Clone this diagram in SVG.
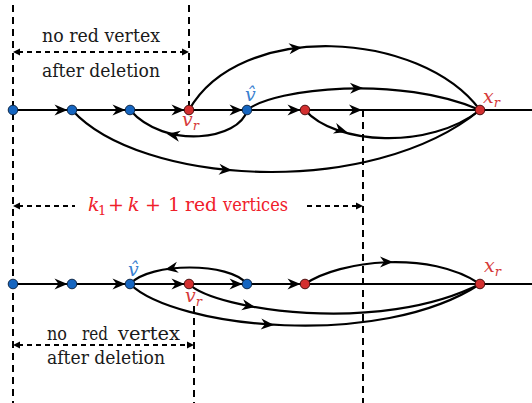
<svg xmlns="http://www.w3.org/2000/svg" xmlns:xlink="http://www.w3.org/1999/xlink" width="532" height="403" viewBox="0 0 532 403">
<style>
.edge{fill:none;stroke:#000;stroke-width:2.2}
.dash{fill:none;stroke:#000;stroke-width:2;stroke-dasharray:7 5}
.dasharr{fill:none;stroke:#000;stroke-width:2;stroke-dasharray:5 4}
.blue{fill:#1565c0;stroke:#0f2848;stroke-width:1}
.red{fill:#d32f2f;stroke:#4a1010;stroke-width:1}
text{font-family:"DejaVu Serif","Times New Roman","Liberation Serif",serif;font-size:19px}
.txt{fill:#1a1a1a}
.math{font-style:italic}
.lred{fill:#d63a3a}
.lblue{fill:#3a7fd0}
.bigred{fill:#f0202a}
.sub{font-size:13px}
</style>
<defs>
<path id="ah" d="M0,0 L-13,-5.5 L-9,0 L-13,5.5 Z" fill="#000"/>
<path id="dh" d="M0,0 L-7,-3.5 L-7,3.5 Z" fill="#000"/>
</defs>

<g id="guides">
<line class="dash" x1="13" y1="5" x2="13" y2="403"/>
<line class="dash" x1="189" y1="5" x2="189" y2="107"/>
<line class="dash" x1="363" y1="110" x2="363" y2="403"/>
<line class="dash" x1="194" y1="306" x2="194" y2="403"/>
<line class="dasharr" x1="18" y1="52" x2="184" y2="52"/>
<use href="#dh" transform="translate(13,52) rotate(180)"/>
<use href="#dh" transform="translate(189,52)"/>
<line class="dasharr" x1="18" y1="206" x2="75" y2="206"/>
<use href="#dh" transform="translate(13,206) rotate(180)"/>
<line class="dasharr" x1="307" y1="206" x2="358" y2="206"/>
<use href="#dh" transform="translate(363,206)"/>
<line class="dasharr" x1="18" y1="345" x2="189" y2="345"/>
<use href="#dh" transform="translate(13,345) rotate(180)"/>
<use href="#dh" transform="translate(194,345)"/>
</g>

<g id="connectors">
<line class="edge" x1="13" y1="110" x2="532" y2="110"/>
<line class="edge" x1="13" y1="284" x2="532" y2="284"/>
<use href="#ah" transform="translate(67.5,110)"/>
<use href="#ah" transform="translate(125.5,110)"/>
<use href="#ah" transform="translate(184.5,110)"/>
<use href="#ah" transform="translate(242.5,110)"/>
<use href="#ah" transform="translate(300.5,110)"/>
<use href="#ah" transform="translate(362,110)"/>
<use href="#ah" transform="translate(67.5,284)"/>
<use href="#ah" transform="translate(125.5,284)"/>
<use href="#ah" transform="translate(184.5,284)"/>
<use href="#ah" transform="translate(242.5,284)"/>
<use href="#ah" transform="translate(300.5,284)"/>

<path class="edge" d="M189,110 C240,20 420,30 480,110"/>
<use href="#ah" transform="translate(302,47.4) rotate(-6)"/>
<path class="edge" d="M247,110 C275,88 400,75 480,110"/>
<use href="#ah" transform="translate(363,88) rotate(-1)"/>
<path class="edge" d="M247,110 C240,140 165,150 130,110"/>
<use href="#ah" transform="translate(167,134) rotate(-170)"/>
<path class="edge" d="M305,110 C335,145 430,150 480,110"/>
<use href="#ah" transform="translate(347,132) rotate(17)"/>
<path class="edge" d="M72,110 C140,185 370,200 480,110"/>
<use href="#ah" transform="translate(232,170.3) rotate(5)"/>

<path class="edge" d="M247,284 C230,262 150,262 130,284"/>
<use href="#ah" transform="translate(165,269.5) rotate(170)"/>
<path class="edge" d="M305,284 C340,260 430,250 480,284"/>
<use href="#ah" transform="translate(393,262) rotate(0)"/>
<path class="edge" d="M130,284 C175,328 380,350 480,284"/>
<use href="#ah" transform="translate(274,325) rotate(4)"/>
<path class="edge" d="M189,284 C215,310 380,335 480,284"/>
<use href="#ah" transform="translate(255,307) rotate(10)"/>
</g>

<g id="n1"><circle class="blue" cx="13" cy="110" r="4.8"/></g>
<g id="n2"><circle class="blue" cx="72" cy="110" r="4.8"/></g>
<g id="n3"><circle class="blue" cx="130" cy="110" r="4.8"/></g>
<g id="n4"><circle class="red" cx="189" cy="110" r="4.8"/><text class="math lred" x="182" y="126">v<tspan class="sub" dy="4">r</tspan></text></g>
<g id="n5"><circle class="blue" cx="247" cy="110" r="4.8"/><text class="math lblue" x="245" y="101">v̂</text></g>
<g id="n6"><circle class="red" cx="305" cy="110" r="4.8"/></g>
<g id="n7"><circle class="red" cx="480" cy="110" r="4.8"/><text class="math lred" x="483" y="103">x<tspan class="sub" dy="4">r</tspan></text></g>

<g id="m1"><circle class="blue" cx="13" cy="284" r="4.8"/></g>
<g id="m2"><circle class="blue" cx="72" cy="284" r="4.8"/></g>
<g id="m3"><circle class="blue" cx="130" cy="284" r="4.8"/><text class="math lblue" x="128" y="276">v̂</text></g>
<g id="m4"><circle class="red" cx="189" cy="284" r="4.8"/><text class="math lred" x="185" y="302">v<tspan class="sub" dy="4">r</tspan></text></g>
<g id="m5"><circle class="blue" cx="247" cy="284" r="4.8"/></g>
<g id="m6"><circle class="red" cx="305" cy="284" r="4.8"/></g>
<g id="m7"><circle class="red" cx="480" cy="284" r="4.8"/><text class="math lred" x="484" y="272">x<tspan class="sub" dy="4">r</tspan></text></g>

<g id="labels">
<text class="txt" x="42" y="42" textLength="118" lengthAdjust="spacingAndGlyphs">no red vertex</text>
<text class="txt" x="42" y="77" textLength="118" lengthAdjust="spacingAndGlyphs">after deletion</text>
<text class="bigred" y="211"><tspan x="88" font-style="italic">k</tspan><tspan x="98" class="sub" dy="4">1</tspan><tspan x="108" dy="-4">+</tspan><tspan x="128" font-style="italic">k</tspan><tspan x="145">+</tspan><tspan x="168">1</tspan><tspan x="185" textLength="32" lengthAdjust="spacingAndGlyphs">red</tspan><tspan x="223" textLength="65" lengthAdjust="spacingAndGlyphs">vertices</tspan></text>
<text class="txt" y="340"><tspan x="47" textLength="20" lengthAdjust="spacingAndGlyphs">no</tspan><tspan x="82" textLength="26" lengthAdjust="spacingAndGlyphs">red</tspan><tspan x="118" textLength="62" lengthAdjust="spacingAndGlyphs">vertex</tspan></text>
<text class="txt" x="47" y="364" textLength="118" lengthAdjust="spacingAndGlyphs">after deletion</text>
</g>
</svg>
